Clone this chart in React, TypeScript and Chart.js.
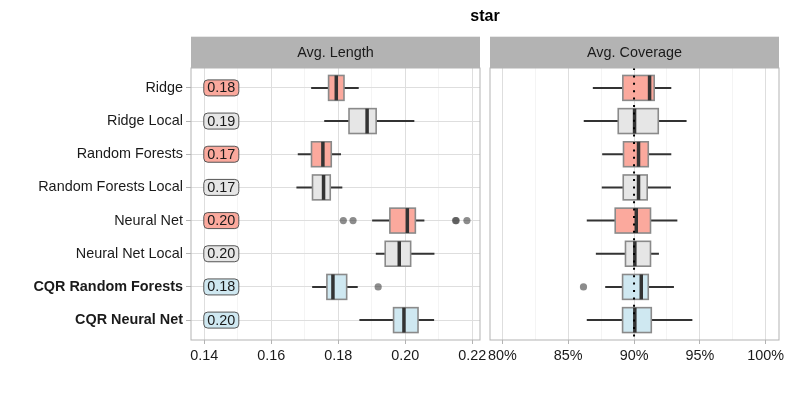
import React, { useEffect, useRef } from "react";
import { Chart, registerables } from "chart.js";

Chart.register(...registerables);

// ---------- data ----------
const title = "star";
const methods = [
  "Ridge",
  "Ridge Local",
  "Random Forests",
  "Random Forests Local",
  "Neural Net",
  "Neural Net Local",
  "CQR Random Forests",
  "CQR Neural Net",
];
const methodGroups = ["base", "local", "base", "local", "base", "local", "cqr", "cqr"];
const boldRows = [false, false, false, false, false, false, true, true];

// Avg. Length panel
const lenStrip = "Avg. Length";
const lenLabels = ["0.18", "0.19", "0.17", "0.17", "0.20", "0.20", "0.18", "0.20"];
const lenLow = [0.1719, 0.1758, 0.1679, 0.1675, 0.1901, 0.1912, 0.1722, 0.1863];
const lenQ1 = [0.1771, 0.1832, 0.172, 0.1723, 0.1954, 0.194, 0.1766, 0.1965];
const lenMed = [0.1794, 0.1886, 0.1754, 0.1756, 0.2006, 0.1982, 0.1784, 0.1996];
const lenQ3 = [0.1817, 0.1913, 0.1779, 0.1776, 0.203, 0.2016, 0.1825, 0.2038];
const lenHigh = [0.1861, 0.2027, 0.1808, 0.1812, 0.2057, 0.2087, 0.1858, 0.2086];
const lenOutX = [0.1815, 0.1844, 0.215, 0.2152, 0.2184, 0.1919];
const lenOutRow = [5, 5, 5, 5, 5, 7];
const lenTicks = [0.14, 0.15, 0.16, 0.17, 0.18, 0.19, 0.2, 0.21, 0.22];
const lenTickLabels = ["0.14", "", "0.16", "", "0.18", "", "0.20", "", "0.22"];
const lenMin = 0.13603;
const lenMax = 0.2223;

// Avg. Coverage panel
const covStrip = "Avg. Coverage";
const covLow = [0.8687, 0.8618, 0.8758, 0.8755, 0.8641, 0.871, 0.8781, 0.8641];
const covQ1 = [0.8915, 0.888, 0.892, 0.8918, 0.8857, 0.8935, 0.8913, 0.8913];
const covMed = [0.9118, 0.9004, 0.9034, 0.9034, 0.9017, 0.9006, 0.9055, 0.9006];
const covQ3 = [0.9153, 0.9184, 0.9108, 0.91, 0.9125, 0.9125, 0.9108, 0.9131];
const covHigh = [0.9283, 0.9399, 0.9283, 0.928, 0.9329, 0.9189, 0.9303, 0.9443];
const covOutX = [0.8616];
const covOutRow = [7];
const covTarget = 0.9;
const covTicks = [0.8, 0.825, 0.85, 0.875, 0.9, 0.925, 0.95, 0.975, 1.0];
const covTickLabels = ["80%", "", "85%", "", "90%", "", "95%", "", "100%"];
const covMin = 0.7906;
const covMax = 1.0101;

// ---------- style ----------
const FONT = "'Liberation Sans', Arial, Helvetica, sans-serif";
const FS = 14.4;
const groupFill: Record<string, string> = {
  base: "#fba99d",
  local: "#e6e6e6",
  cqr: "#cfe8f1",
};
const GRID_MAJOR = "#dedede";
const GRID_MINOR = "#ececec";
const FRAME = "#b3b3b3";
const TEXT = "#1a1a1a";

type PanelCfg = {
  strip: string;
  low: number[];
  q1: number[];
  med: number[];
  q3: number[];
  high: number[];
  labels?: string[];
  labelAt?: number;
  refLine?: number;
  showTitle?: boolean;
};

function roundRect(ctx: CanvasRenderingContext2D, x: number, y: number, w: number, h: number, r: number) {
  ctx.beginPath();
  ctx.moveTo(x + r, y);
  ctx.lineTo(x + w - r, y);
  ctx.arcTo(x + w, y, x + w, y + r, r);
  ctx.lineTo(x + w, y + h - r);
  ctx.arcTo(x + w, y + h, x + w - r, y + h, r);
  ctx.lineTo(x + r, y + h);
  ctx.arcTo(x, y + h, x, y + h - r, r);
  ctx.lineTo(x, y + r);
  ctx.arcTo(x, y, x + r, y, r);
  ctx.closePath();
}

function panelPlugin(cfg: PanelCfg) {
  return {
    id: "panel_" + cfg.strip.replace(/\W/g, ""),
    beforeDraw(chart: any) {
      const { ctx, chartArea } = chart;
      ctx.save();
      ctx.fillStyle = "#ffffff";
      ctx.fillRect(chartArea.left, chartArea.top, chartArea.right - chartArea.left, chartArea.bottom - chartArea.top);
      // strip
      const stripTop = 36.7;
      ctx.fillStyle = FRAME;
      ctx.fillRect(chartArea.left, stripTop, chartArea.right - chartArea.left, chartArea.top - stripTop);
      ctx.fillStyle = TEXT;
      ctx.font = `${FS}px ${FONT}`;
      ctx.textAlign = "center";
      ctx.textBaseline = "middle";
      ctx.fillText(cfg.strip, (chartArea.left + chartArea.right) / 2, (stripTop + chartArea.top) / 2 + 1);
      if (cfg.showTitle) {
        ctx.font = `bold 16px ${FONT}`;
        ctx.fillStyle = "#000";
        ctx.fillText(title, 485, 17);
      }
      ctx.restore();
    },
    beforeDatasetsDraw(chart: any) {
      const { ctx, scales } = chart;
      const xs = scales.x;
      const ys = scales.y;
      const unit = Math.abs(ys.getPixelForValue(2) - ys.getPixelForValue(1));
      const half = (unit * 0.75) / 2;
      ctx.save();
      for (let i = 0; i < methods.length; i++) {
        const yc = ys.getPixelForValue(i + 1);
        const xl = xs.getPixelForValue(cfg.low[i]);
        const x1 = xs.getPixelForValue(cfg.q1[i]);
        const xm = xs.getPixelForValue(cfg.med[i]);
        const x3 = xs.getPixelForValue(cfg.q3[i]);
        const xh = xs.getPixelForValue(cfg.high[i]);
        // whiskers
        ctx.strokeStyle = "#333333";
        ctx.lineWidth = 2;
        ctx.beginPath();
        ctx.moveTo(xl, yc);
        ctx.lineTo(x1, yc);
        ctx.moveTo(x3, yc);
        ctx.lineTo(xh, yc);
        ctx.stroke();
        // box
        ctx.fillStyle = groupFill[methodGroups[i]];
        ctx.fillRect(x1, yc - half, x3 - x1, 2 * half);
        ctx.strokeStyle = "#8a8a8a";
        ctx.lineWidth = 1.6;
        ctx.strokeRect(x1, yc - half, x3 - x1, 2 * half);
        // median
        ctx.strokeStyle = "#333333";
        ctx.lineWidth = 3.5;
        ctx.beginPath();
        ctx.moveTo(xm, yc - half);
        ctx.lineTo(xm, yc + half);
        ctx.stroke();
      }
      ctx.restore();
    },
    afterDatasetsDraw(chart: any) {
      const { ctx, chartArea, scales } = chart;
      const xs = scales.x;
      const ys = scales.y;
      ctx.save();
      if (cfg.refLine !== undefined) {
        const xr = xs.getPixelForValue(cfg.refLine);
        ctx.strokeStyle = "#000";
        ctx.lineWidth = 2;
        ctx.setLineDash([2, 5.4]);
        ctx.beginPath();
        ctx.moveTo(xr, chartArea.top);
        ctx.lineTo(xr, chartArea.bottom);
        ctx.stroke();
        ctx.setLineDash([]);
      }
      if (cfg.labels && cfg.labelAt !== undefined) {
        ctx.font = `${FS}px ${FONT}`;
        ctx.textAlign = "center";
        ctx.textBaseline = "middle";
        for (let i = 0; i < cfg.labels.length; i++) {
          const yc = ys.getPixelForValue(i + 1);
          const x0 = xs.getPixelForValue(cfg.labelAt);
          const tw = ctx.measureText(cfg.labels[i]).width;
          const w = tw + 7;
          const h = 16;
          roundRect(ctx, x0 - 0.5, yc - h / 2, w, h, 4);
          ctx.fillStyle = groupFill[methodGroups[i]];
          ctx.fill();
          ctx.strokeStyle = "#555";
          ctx.lineWidth = 1;
          ctx.stroke();
          ctx.fillStyle = TEXT;
          ctx.fillText(cfg.labels[i], x0 - 0.5 + w / 2, yc + 0.5);
        }
      }
      // panel frame
      ctx.strokeStyle = FRAME;
      ctx.lineWidth = 1;
      ctx.strokeRect(chartArea.left, chartArea.top, chartArea.right - chartArea.left, chartArea.bottom - chartArea.top);
      ctx.restore();
    },
  };
}

function xScale(min: number, max: number, ticks: number[], labels: string[]) {
  return {
    type: "linear",
    min,
    max,
    bounds: "data",
    afterBuildTicks: (s: any) => {
      s.ticks = ticks.map((v) => ({ value: v }));
    },
    afterFit: (s: any) => {
      s.height = 55;
    },
    border: { display: false },
    grid: {
      color: (c: any) => (c.index % 2 === 0 ? GRID_MAJOR : GRID_MINOR),
      lineWidth: (c: any) => (c.index % 2 === 0 ? 1 : 0.6),
      tickColor: (c: any) => (c.index % 2 === 0 ? FRAME : "rgba(0,0,0,0)"),
      tickLength: 4,
    },
    ticks: {
      autoSkip: false,
      maxRotation: 0,
      minRotation: 0,
      padding: 3,
      color: TEXT,
      font: { family: FONT, size: FS },
      callback: (_v: any, i: number) => labels[i],
    },
  };
}

function yScale(show: boolean) {
  return {
    type: "linear",
    reverse: true,
    min: 0.4,
    max: 8.6,
    bounds: "data",
    display: show,
    afterBuildTicks: (s: any) => {
      s.ticks = methods.map((_m, i) => ({ value: i + 1 }));
    },
    afterFit: (s: any) => {
      if (show) s.width = 191;
    },
    border: { display: false },
    grid: {
      color: GRID_MAJOR,
      lineWidth: 1,
      tickColor: FRAME,
      tickLength: 5,
    },
    ticks: {
      autoSkip: false,
      padding: 3,
      color: TEXT,
      font: (c: any) => ({ family: FONT, size: FS, weight: boldRows[c.index] ? "bold" : "normal" }),
      callback: (_v: any, i: number) => methods[i],
    },
  };
}

function outlierData(xsArr: number[], rows: number[]) {
  return xsArr.map((x, i) => ({ x, y: rows[i] }));
}

export default function App() {
  const leftRef = useRef<HTMLCanvasElement>(null);
  const rightRef = useRef<HTMLCanvasElement>(null);

  useEffect(() => {
    const common = {
      responsive: false,
      animation: false,
      devicePixelRatio: 1,
      events: [],
      plugins: { legend: { display: false }, tooltip: { enabled: false }, title: { display: false } },
    };
    const pointStyle = {
      pointRadius: 3.6,
      pointBackgroundColor: "rgba(70,70,70,0.62)",
      pointBorderWidth: 0,
      showLine: false,
    };
    const left = new Chart(leftRef.current as HTMLCanvasElement, {
      type: "scatter",
      data: {
        datasets: [{ label: "outliers", data: outlierData(lenOutX, lenOutRow), ...pointStyle } as any],
      },
      options: {
        ...common,
        layout: { padding: { top: 68, right: 20, bottom: 0, left: 0 } },
        scales: {
          x: xScale(lenMin, lenMax, lenTicks, lenTickLabels) as any,
          y: yScale(true) as any,
        },
      } as any,
      plugins: [
        panelPlugin({
          strip: lenStrip,
          low: lenLow,
          q1: lenQ1,
          med: lenMed,
          q3: lenQ3,
          high: lenHigh,
          labels: lenLabels,
          labelAt: 0.14,
          showTitle: true,
        }),
      ],
    });
    const right = new Chart(rightRef.current as HTMLCanvasElement, {
      type: "scatter",
      data: {
        datasets: [{ label: "outliers", data: outlierData(covOutX, covOutRow), ...pointStyle } as any],
      },
      options: {
        ...common,
        layout: { padding: { top: 68, right: 10, bottom: 0, left: 10 } },
        scales: {
          x: xScale(covMin, covMax, covTicks, covTickLabels) as any,
          y: yScale(false) as any,
        },
      } as any,
      plugins: [
        panelPlugin({
          strip: covStrip,
          low: covLow,
          q1: covQ1,
          med: covMed,
          q3: covQ3,
          high: covHigh,
          refLine: covTarget,
        }),
      ],
    });
    return () => {
      left.destroy();
      right.destroy();
    };
  }, []);

  return (
    <div style={{ position: "fixed", left: 0, top: 0, width: 789, height: 395, background: "#fff", overflow: "hidden" }}>
      <canvas ref={leftRef} width={500} height={395} style={{ position: "absolute", left: 0, top: 0, width: 500, height: 395 }} />
      <canvas ref={rightRef} width={309} height={395} style={{ position: "absolute", left: 480, top: 0, width: 309, height: 395 }} />
    </div>
  );
}
